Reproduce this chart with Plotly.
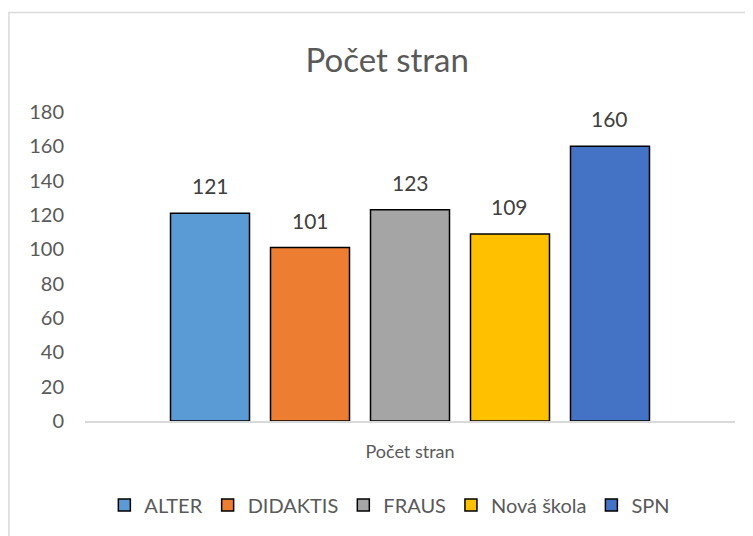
import plotly.graph_objects as go

# Data
category = ['Počet stran']
publishers = ['ALTER', 'DIDAKTIS', 'FRAUS', 'Nová škola', 'SPN']
pages = [121, 101, 123, 109, 160]
colors = ['#5B9BD5', '#ED7D31', '#A5A5A5', '#FFC000', '#4472C4']
y_ticks = [0, 20, 40, 60, 80, 100, 120, 140, 160, 180]

W, H = 753, 536
ML, MR, MT, MB = 77, 26, 104, 123
BARGAP = 0.2308
plot_w = W - ML - MR
slot = plot_w * (1 - BARGAP) / len(publishers)

fig = go.Figure()

for i, (name, val, col) in enumerate(zip(publishers, pages, colors)):
    fig.add_trace(go.Bar(
        x=category,
        y=[val],
        name=name,
        marker=dict(color=col, line=dict(color='#000000', width=1.5))
    ))
    # data label sits a bit above the bar, like Excel
    fig.add_annotation(
        x=category[0], y=val, text=str(val), showarrow=False,
        xshift=(i - (len(publishers) - 1) / 2) * slot, yshift=13,
        yanchor='bottom', font=dict(size=21, color='#404040')
    )

fig.update_layout(
    width=W,
    height=H,
    barmode='group',
    bargap=BARGAP,
    bargroupgap=0.21,
    plot_bgcolor='white',
    paper_bgcolor='white',
    font=dict(family='Lato, Open Sans, sans-serif', color='#595959'),
    title=dict(text='Počet stran', xref='paper', x=0.465, xanchor='center',
               y=0.903, yanchor='middle', font=dict(size=33, color='#595959')),
    margin=dict(l=ML, r=MR, t=MT, b=MB),
    xaxis=dict(
        showline=True, linecolor='#d9d9d9', linewidth=1.5,
        showticklabels=False, ticks='', automargin=False,
        title=dict(text='Počet stran', font=dict(size=18, color='#595959'), standoff=24),
    ),
    yaxis=dict(
        range=[0, 180], tickvals=y_ticks, showgrid=False, zeroline=False,
        tickfont=dict(size=20, color='#595959'), ticks='', ticklabelstandoff=20,
        automargin=False,
    ),
    legend=dict(orientation='h', x=0.469, xanchor='center', y=-0.272, yanchor='middle',
                font=dict(size=20, color='#595959'), itemwidth=30, traceorder='normal'),
    shapes=[dict(type='rect', xref='paper', yref='paper',
                 x0=-0.117, x1=1.2, y0=-0.6, y1=1.322,
                 line=dict(color='#d9d9d9', width=1.5), fillcolor='rgba(0,0,0,0)',
                 layer='below')]
)

fig.write_html("out.html")
